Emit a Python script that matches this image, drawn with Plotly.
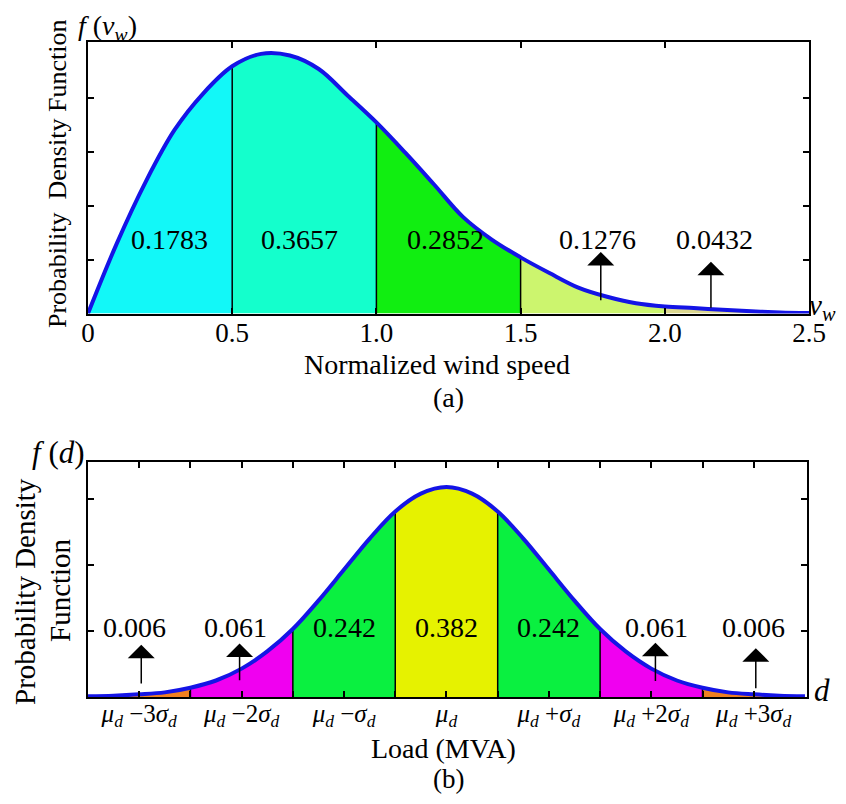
import plotly.graph_objects as go

# (a) wind speed pdf (y in tick units)
wind_v = [0.0, 0.1, 0.2, 0.3, 0.4, 0.5, 0.6, 0.7, 0.8, 0.9, 1.0, 1.1, 1.2,
          1.3, 1.4, 1.5, 1.6, 1.7, 1.8, 1.9, 2.0, 2.1, 2.2, 2.3, 2.4, 2.5]
wind_f = [0.0, 1.30, 2.44, 3.40, 4.08, 4.58, 4.81, 4.78, 4.53, 4.04, 3.54, 2.98, 2.39,
          1.79, 1.37, 1.04, 0.75, 0.48, 0.31, 0.19, 0.13, 0.10, 0.07, 0.04, 0.02, 0.01]
wind_edges = [0.0, 0.5, 1.0, 1.5, 2.0, 2.5]
wind_colors = ["#12F8F8", "#14FFCC", "#11EE11", "#CCF56E", "#DCD890"]
wind_probs = ["0.1783", "0.3657", "0.2852", "0.1276", "0.0432"]
wind_ticks = [0, 0.5, 1.0, 1.5, 2.0, 2.5]
wind_ticktext = ["0", "0.5", "1.0", "1.5", "2.0", "2.5"]

# (b) load pdf, x in units of sigma from the mean
load_z = [-3.5, -3.25, -3.0, -2.75, -2.5, -2.25, -2.0, -1.75, -1.5, -1.25, -1.0, -0.75, -0.5, -0.25,
          0.0, 0.25, 0.5, 0.75, 1.0, 1.25, 1.5, 1.75, 2.0, 2.25, 2.5, 2.75, 3.0, 3.25, 3.5]
load_f = [0.01, 0.02, 0.04, 0.07, 0.14, 0.25, 0.43, 0.69, 1.03, 1.46, 1.93, 2.40, 2.81, 3.08,
          3.18, 3.08, 2.81, 2.40, 1.93, 1.46, 1.03, 0.69, 0.43, 0.25, 0.14, 0.07, 0.04, 0.02, 0.01]
load_edges = [-3.5, -2.5, -1.5, -0.5, 0.5, 1.5, 2.5, 3.5]
load_colors = ["#F08020", "#F000F0", "#0AF040", "#E6F200", "#0AF040", "#F000F0", "#F08020"]
load_probs = ["0.006", "0.061", "0.242", "0.382", "0.242", "0.061", "0.006"]
load_ticks = [-3, -2.5, -2, -1.5, -1, -0.5, 0, 0.5, 1, 1.5, 2, 2.5, 3]
load_ticktext = ["<i>μ<sub>d</sub></i> −3<i>σ<sub>d</sub></i>", "",
                 "<i>μ<sub>d</sub></i> −2<i>σ<sub>d</sub></i>", "",
                 "<i>μ<sub>d</sub></i> −<i>σ<sub>d</sub></i>", "",
                 "<i>μ<sub>d</sub></i>", "",
                 "<i>μ<sub>d</sub></i> +<i>σ<sub>d</sub></i>", "",
                 "<i>μ<sub>d</sub></i> +2<i>σ<sub>d</sub></i>", "",
                 "<i>μ<sub>d</sub></i> +3<i>σ<sub>d</sub></i>"]

FONT = "Liberation Serif, Times New Roman, serif"
BLUE = "#1414E6"

# the page keeps its default 8px body margin, so the figure is 16px smaller than the window
W, H, OFF = 830, 788, 8


def px_x(px):
    return (px - OFF) / W


def px_y(py):
    return 1 - (py - OFF) / H


def lookup(xs, ys, x0):
    for a, b in zip(xs, ys):
        if abs(a - x0) < 1e-9:
            return b


fig = go.Figure()


def add_panel(xs, ys, edges, colors, xa, ya):
    for i, col in enumerate(colors):
        lo, hi = edges[i], edges[i + 1]
        sx = [a for a in xs if lo - 1e-9 <= a <= hi + 1e-9]
        sy = [b for a, b in zip(xs, ys) if lo - 1e-9 <= a <= hi + 1e-9]
        fig.add_trace(go.Scatter(x=sx, y=sy, mode="lines", fill="tozeroy", fillcolor=col,
                                 line=dict(width=0, shape="spline"), xaxis=xa, yaxis=ya,
                                 hoverinfo="skip"))
    for e in edges[1:-1]:
        fig.add_trace(go.Scatter(x=[e, e], y=[0, lookup(xs, ys, e)], mode="lines",
                                 line=dict(color="black", width=1.5), xaxis=xa, yaxis=ya,
                                 hoverinfo="skip"))
    fig.add_trace(go.Scatter(x=xs, y=ys, mode="lines", line=dict(color=BLUE, width=4, shape="spline"),
                             xaxis=xa, yaxis=ya))


add_panel(wind_v, wind_f, wind_edges, wind_colors, "x", "y")
add_panel(load_z, load_f, load_edges, load_colors, "x2", "y2")

axis_common = dict(showline=True, linecolor="black", linewidth=2, mirror="ticks", ticks="inside",
                   ticklen=6, tickwidth=2, tickcolor="black", showgrid=False, zeroline=False,
                   automargin=False)

fig.update_layout(
    width=W, height=H, margin=dict(l=0, r=0, t=0, b=0, pad=0),
    plot_bgcolor="white", paper_bgcolor="white", showlegend=False,
    xaxis=dict(domain=[px_x(88), px_x(809)], range=[0, 2.5], tickvals=wind_ticks,
               ticktext=wind_ticktext, ticklabelstandoff=-6, anchor="y",
               tickfont=dict(family=FONT, size=27, color="black"), **axis_common),
    yaxis=dict(domain=[px_y(313.5), px_y(42)], range=[0, 5.03], tickvals=[1, 2, 3, 4],
               showticklabels=False, anchor="x", **axis_common),
    xaxis2=dict(domain=[px_x(88), px_x(807)], range=[-3.5, 3.52], tickvals=load_ticks,
                ticktext=load_ticktext, ticklabelstandoff=-7, anchor="y2",
                tickfont=dict(family=FONT, size=25, color="black"), **axis_common),
    yaxis2=dict(domain=[px_y(697), px_y(462)], range=[0, 3.56], tickvals=[1, 2, 3],
                showticklabels=False, anchor="x2", **axis_common),
)

# region probabilities, panel (a)
wind_lab_x = [0.284, 0.735, 1.238, 1.768, 2.173]
for lx, txt in zip(wind_lab_x, wind_probs):
    fig.add_annotation(x=lx, y=1.38, xref="x", yref="y", text=txt, showarrow=False,
                       font=dict(family=FONT, size=28, color="black"))
for hx, hy, ty in [(1.778, 1.14, 0.22), (2.160, 0.96, 0.08)]:
    fig.add_annotation(x=hx, y=hy, ax=hx, ay=ty, xref="x", yref="y", axref="x", ayref="y",
                       text="", showarrow=True, arrowhead=1, arrowsize=3, arrowwidth=1.5,
                       arrowcolor="black", standoff=0)

# region probabilities, panel (b)
load_lab_x = [-3.05, -2.06, -1.0, 0.0, 1.0, 2.05, 3.0]
for lx, txt in zip(load_lab_x, load_probs):
    fig.add_annotation(x=lx, y=1.05, xref="x2", yref="y2", text=txt, showarrow=False,
                       font=dict(family=FONT, size=28, color="black"))
for hx, hy, ty in [(-2.98, 0.79, 0.18), (-2.02, 0.81, 0.23), (2.04, 0.82, 0.22), (3.02, 0.74, 0.11)]:
    fig.add_annotation(x=hx, y=hy, ax=hx, ay=ty, xref="x2", yref="y2", axref="x2", ayref="y2",
                       text="", showarrow=True, arrowhead=1, arrowsize=3, arrowwidth=1.5,
                       arrowcolor="black", standoff=0)


def label(px, py, txt, size=28, angle=0, xanchor="center", yanchor="middle"):
    fig.add_annotation(x=px_x(px), y=px_y(py), xref="paper", yref="paper", text=txt,
                       showarrow=False, textangle=angle, xanchor=xanchor, yanchor=yanchor,
                       font=dict(family=FONT, size=size, color="black"))


label(107, 8, "<i>f</i> (<i>v<sub>w</sub></i>)", size=28, yanchor="top")
label(838, 307, "<i>v<sub>w</sub></i>", size=29, xanchor="right")
label(57, 174, "Probability  Density Function", size=26, angle=-90)
label(437, 364, "Normalized wind speed", size=28)
label(448, 397, "(a)")

label(58, 452, "<i>f</i> (<i>d</i>)", size=31)
label(822, 690, "<i>d</i>", size=31)
label(25, 592, "Probability Density", size=29, angle=-90)
label(60, 590, "Function", size=29, angle=-90)
label(443, 748, "Load (MVA)")
label(448, 796, "(b)", size=27, yanchor="bottom")

fig.write_html("out.html")
